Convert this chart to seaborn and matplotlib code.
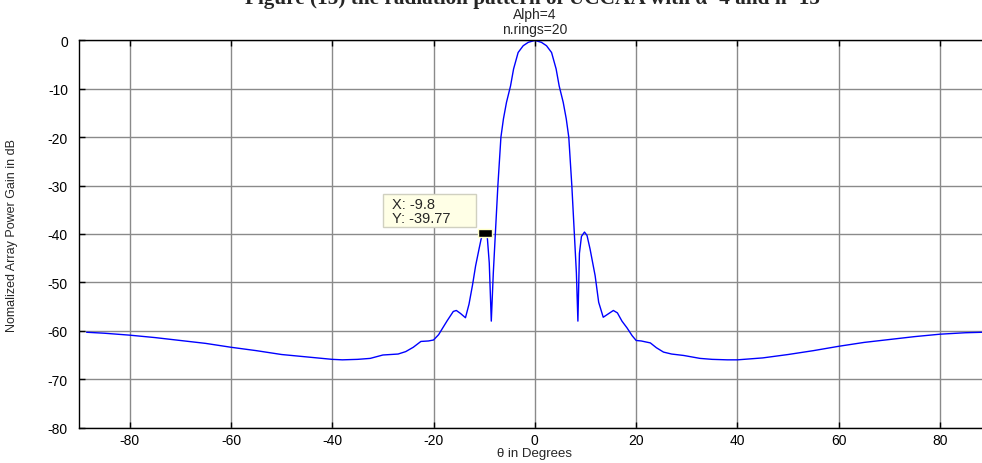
import numpy as np
import pandas as pd
import matplotlib
matplotlib.use("Agg")
import matplotlib.pyplot as plt
from matplotlib.patches import Rectangle
import seaborn as sns

# ---- data ----
theta = [-88.5, -85, -80, -75, -70, -65, -60, -55, -50, -45, -40, -38, -35, -32.5,
         -30, -27, -25.5, -24, -22.5, -21, -20, -19, -18.3, -17.3, -16.1, -15.5,
         -14.7, -13.7, -13, -12.3, -11.7, -11, -10.6, -10.2, -9.8, -9.4, -9.0, -8.6,
         -8.2, -7.8, -7.3, -6.7, -6.2, -5.6, -4.8, -4.2, -3.3, -2.3, -1.3, 0,
         1.3, 2.3, 3.3, 4.2, 4.8, 5.6, 6.2, 6.7, 7.3, 7.8, 8.2, 8.5, 8.8, 9.2, 9.8,
         10.3, 10.9, 11.9, 12.6, 13.5, 14.5, 15.5, 16.3, 17.2, 18.2, 19.2, 20.0, 21,
         22.8, 24, 25.4, 27, 29.4, 32.6, 35, 38, 40, 45, 50, 55, 60, 65, 70, 75, 80,
         85, 88.5]
gain_db = [-60.3, -60.5, -60.9, -61.4, -62.0, -62.6, -63.4, -64.1, -64.9, -65.4, -65.9,
           -66.0, -65.9, -65.7, -65.0, -64.8, -64.3, -63.4, -62.2, -62.1, -61.9, -60.8,
           -59.6, -57.9, -56.0, -55.8, -56.4, -57.3, -54.5, -50.5, -46.6, -43.0, -41.0,
           -40.0, -39.77, -40.5, -46.0, -58.0, -48.0, -40.0, -30.0, -20.0, -16.2, -12.8,
           -9.4, -5.9, -2.5, -1.1, -0.4, 0.0,
           -0.4, -1.1, -2.5, -5.9, -9.4, -12.8, -16.2, -20.0, -30.0, -40.0, -48.0, -58.0,
           -44.0, -40.5, -39.6, -40.3, -43.1, -48.6, -54.1, -57.2, -56.5, -55.8, -56.3,
           -58.0, -59.4, -61.0, -62.0, -62.1, -62.5, -63.5, -64.4, -64.8, -65.1, -65.7,
           -65.9, -66.0, -66.0, -65.6, -64.9, -64.1, -63.2, -62.4, -61.8, -61.2, -60.7,
           -60.4, -60.3]
tip_x = -9.8
tip_y = -39.77
x_ticks = [-80, -60, -40, -20, 0, 20, 40, 60, 80]
y_ticks = [0, -10, -20, -30, -40, -50, -60, -70, -80]

df = pd.DataFrame({"theta": theta, "gain": gain_db})

sns.set_style("white")
plt.rcParams["font.family"] = ["Liberation Sans", "DejaVu Sans"]

fig = plt.figure(figsize=(9.82, 4.64), dpi=100)
W, H = 982.0, 464.0
ax = fig.add_axes([79 / W, 1 - 428.6 / H, (990.7 - 79) / W, (428.6 - 41.4) / H])

sns.lineplot(data=df, x="theta", y="gain", ax=ax, color=(0, 0, 1), lw=1.0,
             estimator=None, sort=False)

ax.set_xlim(-90, 90)
ax.set_ylim(-80, 0)
ax.set_xticks(x_ticks)
ax.set_yticks(y_ticks)
ax.set_xticklabels([str(v) for v in x_ticks])
ax.set_yticklabels([str(v) for v in y_ticks])
ax.grid(True, color="#8a8a8a", lw=1.0, ls="-")
ax.set_axisbelow(True)
for s in ax.spines.values():
    s.set_visible(True)
    s.set_color("black")
    s.set_linewidth(1.0)
ax.tick_params(direction="in", length=4, width=1, colors="black", labelsize=10,
               top=True, bottom=True, left=True, right=True)
ax.tick_params(axis="y", pad=8)
ax.tick_params(axis="x", pad=4)
ax.set_xlabel("θ in Degrees", fontsize=9.5, labelpad=0)
ax.set_ylabel("Nomalized Array Power Gain in dB", fontsize=9)
ax.yaxis.set_label_coords(-0.067, 0.5)
ax.set_title("Alph=4\nn.rings=20", fontsize=10, pad=5, linespacing=1.1)

# data tip
ax.add_patch(Rectangle((-29.9, -38.55), 18.2, 6.85, facecolor="#ffffe6",
                       edgecolor="#d0d0c0", lw=1, zorder=4))
rect = [(-1, -0.5), (1, -0.5), (1, 0.5), (-1, 0.5), (-1, -0.5)]
ax.plot([tip_x], [tip_y], marker=rect, markersize=10.5, color="black",
        markeredgecolor="#ffffc8", markeredgewidth=1.0, zorder=5)
ax.text(-28.2, -33.7, f"X: {tip_x}", fontsize=10.5, va="center", ha="left", zorder=6)
ax.text(-28.2, -36.6, f"Y: {tip_y}", fontsize=10.5, va="center", ha="left", zorder=6)

# cropped heading
fig.text(0.542, 1 - 4 / H, "Figure (15) the radiation pattern of UCCAA with α=4 and n=15",
         fontsize=15.3, fontweight="bold", ha="center", va="baseline",
         family=["Liberation Serif", "DejaVu Serif"])

fig.savefig("out.png", dpi=100)
